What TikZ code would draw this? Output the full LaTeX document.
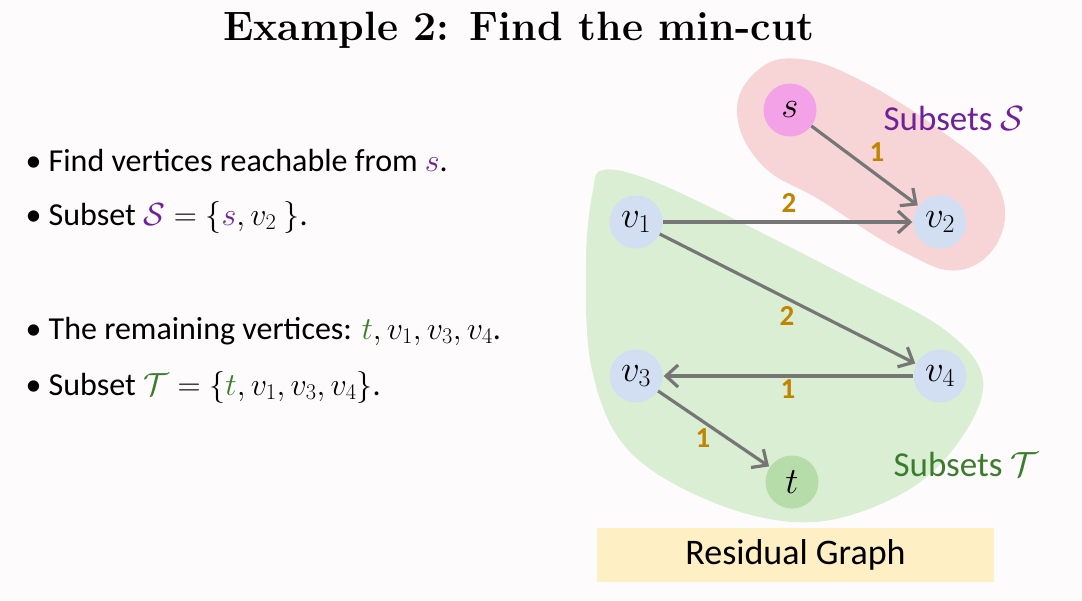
\documentclass[tikz,border=0pt]{standalone}
\usepackage{fix-cm}
\usepackage{fontspec}
\setmainfont{Carlito}
\usetikzlibrary{arrows.meta}
\definecolor{bg}{HTML}{FEFBFD}
\definecolor{spink}{HTML}{F7D5D6}
\definecolor{tgreen}{HTML}{DAEED3}
\definecolor{snode}{HTML}{F4A2E8}
\definecolor{vnode}{HTML}{D2DEF1}
\definecolor{tnode}{HTML}{B6DCA9}
\definecolor{edgegray}{HTML}{767676}
\definecolor{wlab}{HTML}{C18400}
\definecolor{spurple}{HTML}{70209A}
\definecolor{tdkgreen}{HTML}{3B7D2B}
\definecolor{resbox}{HTML}{FEEFC4}
\tikzset{
  vtx/.style={circle, minimum size=53pt, inner sep=0pt, font=\fontsize{37}{42}\selectfont},
  flow/.style={draw=edgegray, line width=3.2pt, -{Straight Barb[length=12pt,width=22pt,line width=3.2pt]}, shorten >=1pt},
  wt/.style={text=wlab, font=\fontsize{29}{33}\selectfont\bfseries},
  bullet/.style={anchor=west, font=\fontsize{32}{38}\selectfont},
}
\begin{document}
\begin{tikzpicture}[x=1pt,y=-1pt]
\useasboundingbox (0,0) rectangle (1082,600);
\fill[bg] (0,0) rectangle (1082,600);
% title
\node[font=\fontsize{41}{46}\selectfont] (title) at (519,30)
  {\fontspec{Latin Modern Roman}\bfseries Example 2: Find the min-cut};
% blobs
\fill[spink] plot[smooth cycle, tension=0.7] coordinates {(737,112) (758,70) (800,59) (860,80) (940,130) (995,180) (1001,235) (960,270) (900,250) (820,200) (762,165)};
\fill[tgreen] plot[smooth cycle, tension=0.6] coordinates {(603,170) (645,178) (720,212) (850,278) (945,330) (983,380) (960,440) (905,492) (815,522) (720,505) (630,452) (592,370) (586,260) (593,190)};
% nodes
\node[vtx, fill=snode] (s) at (790,110) {$s$};
\node[vtx, fill=vnode] (v2) at (940,222) {$v_2$};
\node[vtx, fill=vnode] (v1) at (636,222) {$v_1$};
\node[vtx, fill=vnode] (v4) at (940,376) {$v_4$};
\node[vtx, fill=vnode] (v3) at (636,376) {$v_3$};
\node[vtx, fill=tnode] (t) at (792,482) {$t$};
% edges
\draw[flow] (s) -- (v2);
\draw[flow] (v1) -- (v2);
\draw[flow] (v1) -- (v4);
\draw[flow] (v4) -- (v3);
\draw[flow] (v3) -- (t);
% weights
\node[wt] (w1) at (877,152) {1};
\node[wt] (w2) at (789,203) {2};
\node[wt] (w3) at (787,316) {2};
\node[wt] (w4) at (788,389) {1};
\node[wt] (w5) at (703,438) {1};
% subset labels
\node[text=spurple, font=\fontsize{35}{40}\selectfont] (slab) at (954,118) {Subsets $\mathcal{S}$};
\node[text=tdkgreen, font=\fontsize{35}{40}\selectfont] (tlab) at (966,464) {Subsets $\mathcal{T}$};
% residual box
\node[fill=resbox, minimum width=397pt, minimum height=54pt, inner sep=0pt, font=\fontsize{36}{42}\selectfont] (res) at (795.5,555) {Residual Graph};
% bullets
\node[bullet] (b1) at (22,161) {\textbullet\ Find vertices reachable from $\textcolor{spurple}{s}$.};
\node[bullet] (b2) at (22,217) {\textbullet\ Subset $\textcolor{spurple}{\mathcal{S}} = \{\textcolor{spurple}{s}, v_2\ \}$.};
\node[bullet] (b3) at (22,331) {\textbullet\ The remaining vertices: $\textcolor{tdkgreen}{t}, v_1, v_3, v_4$.};
\node[bullet] (b4) at (22,387) {\textbullet\ Subset $\textcolor{tdkgreen}{\mathcal{T}} = \{\textcolor{tdkgreen}{t}, v_1, v_3, v_4\}$.};
\end{tikzpicture}
\end{document}
